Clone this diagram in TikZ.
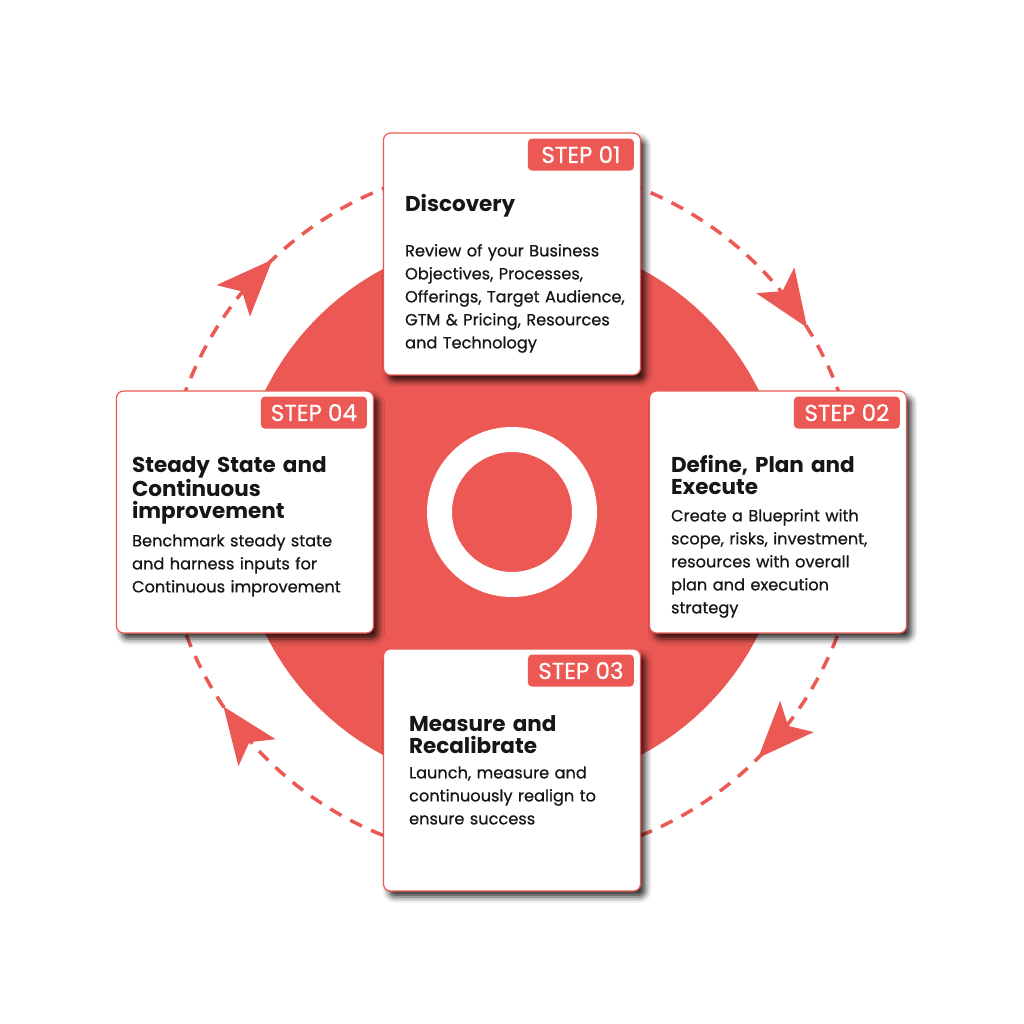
\documentclass[tikz,border=0pt]{standalone}
\usepackage{fontspec}
\setmainfont{Poppins}
\newfontfamily\bodyfont{Poppins}[FakeBold=0.6]
\usetikzlibrary{positioning,shadows.blur}
\definecolor{stepred}{RGB}{236,89,84}
\definecolor{inkdark}{RGB}{22,22,22}

\tikzset{
  card/.style={draw=stepred, line width=1.2pt, fill=white, rounded corners=7pt,
    minimum width=257pt, minimum height=242pt, inner sep=0pt,
    blur shadow={shadow xshift=5pt, shadow yshift=-6pt, shadow blur radius=6pt, shadow opacity=80}},
  badge/.style={fill=stepred, text=white, rounded corners=4pt, anchor=north east,
    minimum width=106pt, minimum height=32pt, inner sep=0pt,
    font=\bodyfont\fontsize{23}{23}\selectfont},
  steptitle/.style={anchor=base west, inner sep=0pt, text width=240pt, align=left,
    font=\bfseries\fontsize{21.5}{22}\selectfont, text=inkdark},
  stepbody/.style={anchor=base west, inner sep=0pt, text width=240pt, align=left,
    font=\bodyfont\fontsize{16.2}{23}\selectfont, text=inkdark},
  cyclearrow/.style={fill=stepred}
}

\begin{document}
\begin{tikzpicture}[x=1pt,y=1pt]
\useasboundingbox (-512,-512) rectangle (512,512);

% background disk and ring
\fill[stepred] (0,0) circle[radius=275];
\fill[white, even odd rule] (0,0) circle[radius=85] circle[radius=60];

% dashed cycle with arrowheads
\draw[stepred, line width=3.5pt, dash pattern=on 13pt off 10pt] (0,0) circle[radius=348];
\foreach \ang/\tw in {32/2, -45/2, -146/2, 133.5/3}
  \fill[cyclearrow, shift={(\ang:348)}, rotate=\ang-90+\tw]
    (0,0) -- (-57,23) -- (-44,0) -- (-57,-23) -- cycle;

% cards
\node[card] (disc) at (0,258) {};
\node[card] (plan) at (266,0) {};
\node[card] (meas) at (0,-258) {};
\node[card] (stdy) at (-267,0) {};

\node[badge] (b1) at ([shift={(-7,-6)}]disc.north east) {STEP 01};
\node[badge] (b2) at ([shift={(-7,-6)}]plan.north east) {STEP 02};
\node[badge] (b3) at ([shift={(-7,-6)}]meas.north east) {STEP 03};
\node[badge] (b4) at ([shift={(-7,-6)}]stdy.north east) {STEP 04};

% step 01
\node[steptitle] (t1) at ([shift={(22,-79)}]disc.north west) {Discovery};
\node[stepbody] (d1) at ([shift={(22,-124)}]disc.north west)
  {Review of your Business\\ Objectives, Processes,\\ Offerings, Target Audience,\\ GTM \& Pricing, Resources\\ and Technology};

% step 02
\node[steptitle] (t2) at ([shift={(22,-82)}]plan.north west) {Define, Plan and\\ Execute};
\node[stepbody] (d2) at ([shift={(22,-131)}]plan.north west)
  {Create a Blueprint with\\ scope, risks, investment,\\ resources with overall\\ plan and execution\\ strategy};

% step 03
\node[steptitle] (t3) at ([shift={(26,-83)}]meas.north west) {Measure and\\ Recalibrate};
\node[stepbody] (d3) at ([shift={(26,-130)}]meas.north west)
  {Launch, measure and\\ continuously realign to\\ ensure success};

% step 04
\node[steptitle] (t4) at ([shift={(16,-82)}]stdy.north west) {Steady State and\\ Continuous\\ improvement};
\node[stepbody] (d4) at ([shift={(16,-156)}]stdy.north west)
  {Benchmark steady state\\ and harness inputs for\\ Continuous improvement};
\end{tikzpicture}
\end{document}
